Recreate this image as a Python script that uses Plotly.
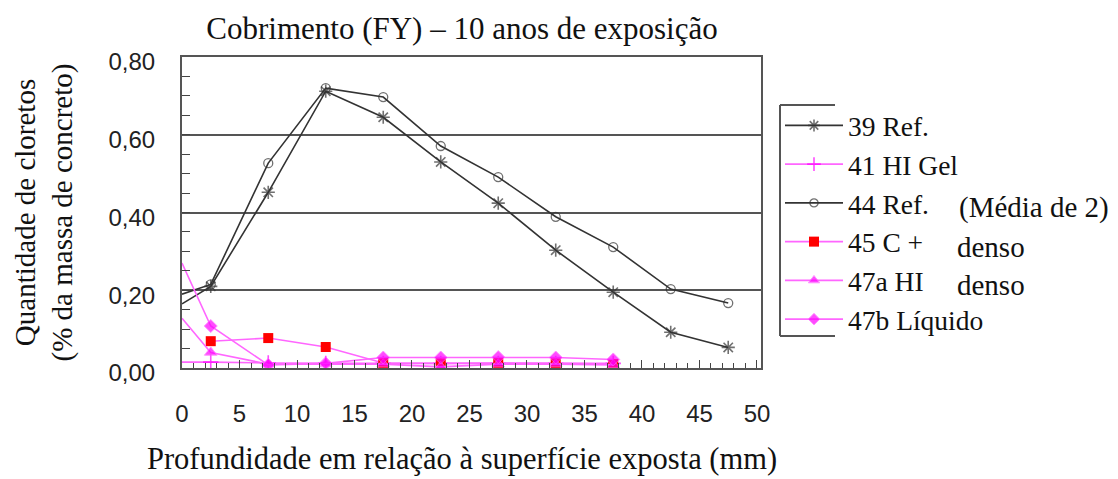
import plotly.graph_objects as go

# ---- data ----
depth_ref = [0, 2.5, 7.5, 12.5, 17.5, 22.5, 27.5, 32.5, 37.5, 42.5, 47.5]
ref39 = [0.165, 0.210, 0.452, 0.712, 0.645, 0.530, 0.424, 0.303, 0.195, 0.092, 0.053]
ref44 = [0.190, 0.215, 0.527, 0.720, 0.697, 0.571, 0.491, 0.389, 0.311, 0.203, 0.167]

depth_p = [0, 2.5, 7.5, 12.5, 17.5, 22.5, 27.5, 32.5, 37.5]
gel41 = [0.015, 0.015, 0.013, 0.012, 0.012, 0.012, 0.012, 0.012, 0.012]
c45 = [None, 0.069, 0.077, 0.054, 0.013, 0.012, 0.013, 0.012, 0.010]
hi47a = [0.128, 0.040, 0.010, 0.010, 0.010, 0.003, 0.010, 0.010, 0.008]
liq47b = [0.270, 0.108, 0.008, 0.012, 0.027, 0.027, 0.028, 0.027, 0.022]

names = ["39 Ref.", "41 HI Gel", "44 Ref.", "45 C +", "47a HI", "47b Líquido"]
x_ticks = [0, 5, 10, 15, 20, 25, 30, 35, 40, 45, 50]
y_ticks = [0.0, 0.2, 0.4, 0.6, 0.8]

# ---- geometry (reference pixel coords; page body adds an 8px margin) ----
OFF = 8
W, H = 1118 - OFF, 479 - OFF
L, R, T, B = 182 - OFF, 761 - OFF, 57 - OFF, 368 - OFF
def px(x):
    return (x - OFF - L) / (R - L)
def py(y):
    return (B - (y - OFF)) / (B - T)

BLACK = "#333333"
PINK = "#ff66ff"
MAG = "#ff00ff"

def sizes(vals, s):
    return [0 if i == 0 else s for i in range(len(vals))]

fig = go.Figure()
fig.add_trace(go.Scatter(x=depth_ref, y=ref39, name=names[0], mode="lines+markers",
                         line=dict(color=BLACK, width=1.6),
                         marker=dict(symbol="asterisk-open", size=sizes(ref39, 11),
                                     color=BLACK, line=dict(color="#000", width=1.6))))
fig.add_trace(go.Scatter(x=depth_p, y=gel41, name=names[1], mode="lines+markers",
                         line=dict(color=PINK, width=1.6),
                         marker=dict(symbol="cross-thin-open", size=sizes(gel41, 11),
                                     color=MAG, line=dict(color=MAG, width=1.6))))
fig.add_trace(go.Scatter(x=depth_ref, y=ref44, name=names[2], mode="lines+markers",
                         line=dict(color=BLACK, width=1.6),
                         marker=dict(symbol="circle-open", size=sizes(ref44, 9),
                                     color=BLACK, line=dict(color=BLACK, width=1.3))))
fig.add_trace(go.Scatter(x=depth_p, y=c45, name=names[3], mode="lines+markers",
                         line=dict(color=PINK, width=1.6),
                         marker=dict(symbol="square", size=10, color="#ff0000")))
fig.add_trace(go.Scatter(x=depth_p, y=hi47a, name=names[4], mode="lines+markers",
                         line=dict(color=PINK, width=1.6),
                         marker=dict(symbol="triangle-up", size=sizes(hi47a, 11), color=MAG)))
fig.add_trace(go.Scatter(x=depth_p, y=liq47b, name=names[5], mode="lines+markers",
                         line=dict(color=PINK, width=1.6),
                         marker=dict(symbol="diamond", size=sizes(liq47b, 10), color=MAG)))

SERIF = "Liberation Serif"
SANS = "Liberation Sans"

fig.update_layout(
    width=W, height=H,
    margin=dict(l=L, r=W - R, t=T, b=H - B, pad=0),
    paper_bgcolor="white", plot_bgcolor="white",
    separators=",.",
    showlegend=True,
    title=dict(text="Cobrimento (FY) – 10 anos de exposição",
               font=dict(family=SERIF, size=31, color="#111"),
               x=px(462), xref="paper", xanchor="center",
               y=1 - (28 - OFF) / H, yref="container", yanchor="middle"),
    legend=dict(x=px(780), y=py(101), xanchor="left", yanchor="top",
                font=dict(family=SERIF, size=27.5, color="#111"),
                bgcolor="rgba(0,0,0,0)", borderwidth=0,
                tracegroupgap=0, itemwidth=58),
)

fig.update_xaxes(range=[0, 50.35], tickvals=x_ticks, ticks="inside", ticklen=8,
                 tickcolor="#444", tickwidth=1.2,
                 minor=dict(dtick=1, ticks="inside", ticklen=5, tickcolor="#444", tickwidth=1),
                 showgrid=False, showline=True, linecolor="#555", linewidth=2, mirror=True,
                 tickfont=dict(family=SANS, size=24, color="#222"),
                 ticklabelstandoff=23,
                 zeroline=False)
fig.update_yaxes(range=[0, 0.8], tickvals=y_ticks, tickformat=".2f", ticks="inside",
                 ticklen=8, tickcolor="#444", tickwidth=1.2,
                 minor=dict(dtick=0.05, ticks="inside", ticklen=8, tickcolor="#444", tickwidth=1),
                 showgrid=True, gridcolor="#555", gridwidth=1.6,
                 showline=True, linecolor="#555", linewidth=2, mirror=True,
                 tickfont=dict(family=SANS, size=24, color="#222"),
                 ticklabelstandoff=20, ticklabelshift=5,
                 title=dict(text="Quantidade de cloretos<br>(% da massa de concreto)",
                            font=dict(family=SERIF, size=29, color="#111"), standoff=27),
                 zeroline=False)

# x-axis title (placed where the reference has it)
fig.add_annotation(text="Profundidade em relação à superfície exposta (mm)",
                   xref="paper", yref="paper", x=px(462), y=py(459),
                   xanchor="center", yanchor="middle", showarrow=False,
                   font=dict(family=SERIF, size=30.5, color="#111"))

# legend bracket
for (x0, y0, x1, y1) in [(780, 105, 780, 336), (780, 105, 835, 105), (780, 336, 835, 336)]:
    fig.add_shape(type="line", xref="paper", yref="paper",
                  x0=px(x0), y0=py(y0), x1=px(x1), y1=py(y1),
                  line=dict(color="#555", width=2))

for txt, x, y in [("(Média de 2)", 957, 207), ("denso", 955, 247), ("denso", 955, 285)]:
    fig.add_annotation(text=txt, xref="paper", yref="paper", x=px(x), y=py(y),
                       xanchor="left", yanchor="middle", showarrow=False,
                       font=dict(family=SERIF, size=29, color="#111"))

fig.write_html("out.html")
